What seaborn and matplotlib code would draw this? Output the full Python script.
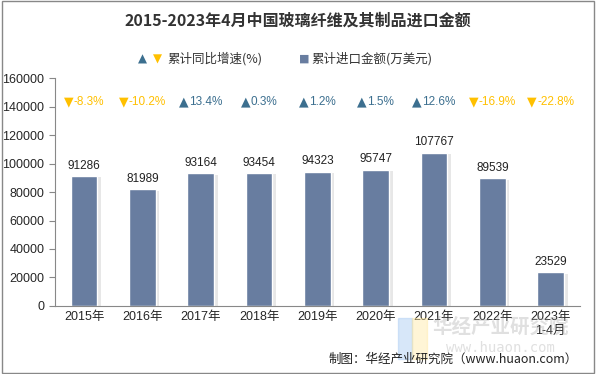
import matplotlib
matplotlib.use('Agg')
import matplotlib.pyplot as plt
import matplotlib.patheffects as pe
from matplotlib.offsetbox import TextArea, HPacker, AnnotationBbox
import seaborn as sns
import pandas as pd

sns.set_style('white')
plt.rcParams['font.family'] = ['Noto Sans CJK SC', 'DejaVu Sans']

# data
years = ['2015年', '2016年', '2017年', '2018年', '2019年', '2020年', '2021年', '2022年', '2023年\n1-4月']
amount = [91286, 81989, 93164, 93454, 94323, 95747, 107767, 89539, 23529]
growth = [-8.3, -10.2, 13.4, 0.3, 1.2, 1.5, 12.6, -16.9, -22.8]

bar_color = '#687DA0'
up_color = '#3C6F8F'
down_color = '#FFC000'

df = pd.DataFrame({'year': years, 'amount': amount})

fig = plt.figure(figsize=(5.96, 3.74), dpi=100)
ax = fig.add_axes([0.092, 0.182, 0.881, 0.609])

sns.barplot(data=df, x='year', y='amount', color=bar_color, width=0.46,
            saturation=1, ax=ax)

# soft shadow on the bars
for p in ax.patches:
    p.set_path_effects([pe.SimplePatchShadow(offset=(2.5, -1), shadow_rgbFace='#bbbbbb', alpha=0.35),
                        pe.Normal()])

lat = ['Liberation Sans', 'DejaVu Sans']

# value labels
for i, v in enumerate(amount):
    ax.text(i, v + 3000, str(v), ha='center', va='bottom', fontsize=8.5, color='#222222',
            family=lat)

# growth labels with arrows (triangle + number packed together)
for i, g in enumerate(growth):
    col = up_color if g >= 0 else down_color
    mark = '▲' if g >= 0 else '▼'
    tri = TextArea(mark, textprops=dict(color=col, fontsize=9, family=['DejaVu Sans']))
    num = TextArea(f'{g:.1f}%', textprops=dict(color=col, fontsize=8.5, family=lat))
    box = HPacker(children=[tri, num], pad=0, sep=0.5, align='center')
    ab = AnnotationBbox(box, (i, 143000), frameon=False, box_alignment=(0.5, 0.5), pad=0)
    ax.add_artist(ab)

ax.set_ylim(0, 160000)
ax.set_xlim(-0.5, len(years) - 0.5)
ax.set_yticks(range(0, 160001, 20000))
ax.set_xticks([x - 0.5 for x in range(len(years) + 1)], minor=True)
ax.tick_params(axis='x', which='major', length=0, labelsize=9, pad=4)
ax.tick_params(axis='x', which='minor', length=4, color='#888888')
ax.tick_params(axis='y', length=4, color='#888888', labelsize=9, left=True)
for lab in ax.get_yticklabels() + ax.get_xticklabels():
    lab.set_family(['Liberation Sans', 'Noto Sans CJK SC'])
ax.set_xlabel('')
ax.set_ylabel('')
sns.despine(ax=ax)
ax.spines['left'].set_color('#888888')
ax.spines['bottom'].set_color('#888888')

# title
fig.text(0.5, 0.945, '2015-2023年4月中国玻璃纤维及其制品进口金额', ha='center', va='center',
         fontsize=11.5, fontweight='bold', color='#333333')

# legend
fig.text(0.232, 0.842, '▲', color=up_color, fontsize=8.5, ha='left', va='center', family=['DejaVu Sans'])
fig.text(0.256, 0.842, '▼', color=down_color, fontsize=8.5, ha='left', va='center', family=['DejaVu Sans'])
fig.text(0.28, 0.842, '累计同比增速(%)', color='#333333', fontsize=9, ha='left', va='center')
fig.text(0.502, 0.842, '■', color=bar_color, fontsize=8, ha='left', va='center', family=['DejaVu Sans'])
fig.text(0.522, 0.842, '累计进口金额(万美元)', color='#333333', fontsize=9, ha='left', va='center')

# watermark
fig.text(0.84, 0.125, '华经产业研究院', ha='center', va='center', fontsize=14,
         color='#999999', alpha=0.3, fontweight='bold')
fig.text(0.84, 0.07, 'www.huaon.com', ha='center', va='center', fontsize=10,
         color='#999999', alpha=0.3, family=['DejaVu Sans Mono'])
fig.patches.append(plt.Rectangle((0.668, 0.04), 0.024, 0.11, transform=fig.transFigure,
                                 color='#9DC3F0', alpha=0.4))
fig.patches.append(plt.Rectangle((0.692, 0.04), 0.024, 0.11, transform=fig.transFigure,
                                 color='#FFE79A', alpha=0.4))

# source
fig.text(0.97, 0.04, '制图：华经产业研究院（www.huaon.com）', ha='right', va='center',
         fontsize=9, color='#222222')

# outer border
fig.patches.append(plt.Rectangle((0.003, 0.004), 0.994, 0.992, transform=fig.transFigure,
                                 fill=False, edgecolor='#888888', linewidth=1))

fig.savefig('out.png', dpi=100)
